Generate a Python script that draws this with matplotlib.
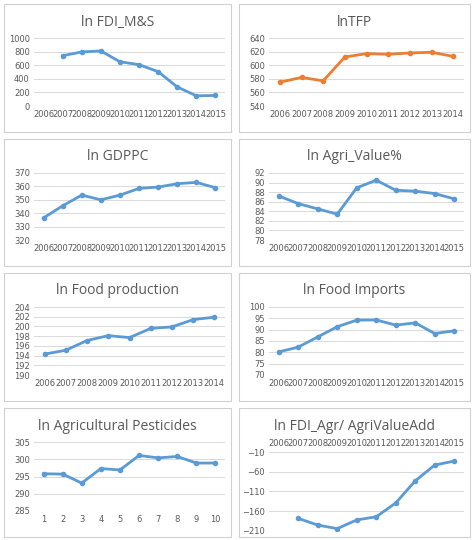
import matplotlib
matplotlib.use("Agg")
import matplotlib.pyplot as plt
from matplotlib.patches import Rectangle

years = ["2006","2007","2008","2009","2010","2011","2012","2013","2014","2015"]
years9 = years[:9]
idx10 = [str(i) for i in range(1, 11)]

fdi_ms = [None, 740, 795, 810, 650, 608, 505, 280, 150, 155]
tfp = [575, 582, 577, 612, 617, 616, 618, 619, 613]
gdppc = [336.5, 345.5, 353.5, 350, 353.5, 358.5, 359.5, 362, 363, 359]
agri_value = [87.2, 85.6, 84.5, 83.4, 88.9, 90.5, 88.4, 88.2, 87.7, 86.6]
food_prod = [194.3, 195.1, 197.1, 198.1, 197.7, 199.6, 199.9, 201.4, 201.9]
food_imp = [80.2, 82.3, 86.8, 91.3, 94.2, 94.3, 92.0, 93.0, 88.3, 89.5]
pesticides = [295.8, 295.7, 293.1, 297.3, 296.9, 301.1, 300.4, 300.8, 298.9, 298.9]
fdi_agr = [None, -178, -195, -204, -182, -174, -139, -83, -43, -33]

BLUE = "#5B9BD5"; ORANGE = "#ED7D31"; GRID = "#D9D9D9"; TXT = "#595959"

panels = [
    ("ln FDI_M&S", years, fdi_ms, (0, 1000, 200), BLUE, False),
    ("lnTFP", years9, tfp, (540, 640, 20), ORANGE, False),
    ("ln GDPPC", years, gdppc, (320, 370, 10), BLUE, False),
    ("ln Agri_Value%", years, agri_value, (78, 92, 2), BLUE, False),
    ("ln Food production", years9, food_prod, (190, 204, 2), BLUE, False),
    ("ln Food Imports", years, food_imp, (70, 100, 5), BLUE, False),
    ("ln Agricultural Pesticides", idx10, pesticides, (285, 305, 5), BLUE, False),
    ("ln FDI_Agr/ AgriValueAdd", years, fdi_agr, (-210, -10, 50), BLUE, True),
]

W, H = 474, 540
fig = plt.figure(figsize=(W/100, H/100), dpi=100)
boxes = [(4, 4, 231, 132), (239, 4, 470, 132), (4, 139, 231, 266), (239, 139, 470, 266),
         (4, 273, 231, 401), (239, 273, 470, 401), (4, 408, 231, 537), (239, 408, 470, 537)]

for (title, cats, vals, (lo, hi, st), col, top), (x0, y0, x1, y1) in zip(panels, boxes):
    fig.add_artist(Rectangle((x0/W, 1-y1/H), (x1-x0)/W, (y1-y0)/H, transform=fig.transFigure,
                             fill=False, edgecolor="#D0D0D0", linewidth=0.8))
    fig.text((x0+x1)/2/W, 1-(y0+18)/H, title, ha="center", va="center", fontsize=10, color=TXT,
             family="Open Sans")
    if top:
        ax = fig.add_axes([(x0+30)/W, 1-(y1-6)/H, (x1-x0-36)/W, (y1-y0-50)/H])
    else:
        ax = fig.add_axes([(x0+30)/W, 1-(y1-26)/H, (x1-x0-36)/W, (y1-y0-60)/H])
    xs = list(range(len(cats)))
    px = [x for x, v in zip(xs, vals) if v is not None]
    pv = [v for v in vals if v is not None]
    ax.plot(px, pv, color=col, linewidth=2, marker="o", markersize=3)
    ax.set_xlim(-0.5, len(cats)-0.5)
    ax.set_ylim(lo, hi)
    ax.set_yticks(list(range(lo, hi+1, st)))
    ax.set_xticks(xs)
    ax.set_xticklabels(cats)
    if top:
        ax.xaxis.tick_top()
    ax.grid(axis="y", color=GRID, linewidth=0.7)
    ax.set_axisbelow(True)
    for s in ax.spines.values():
        s.set_visible(False)
    ax.tick_params(length=0, labelsize=6, colors=TXT, pad=3)

fig.savefig("out.png", dpi=100)
